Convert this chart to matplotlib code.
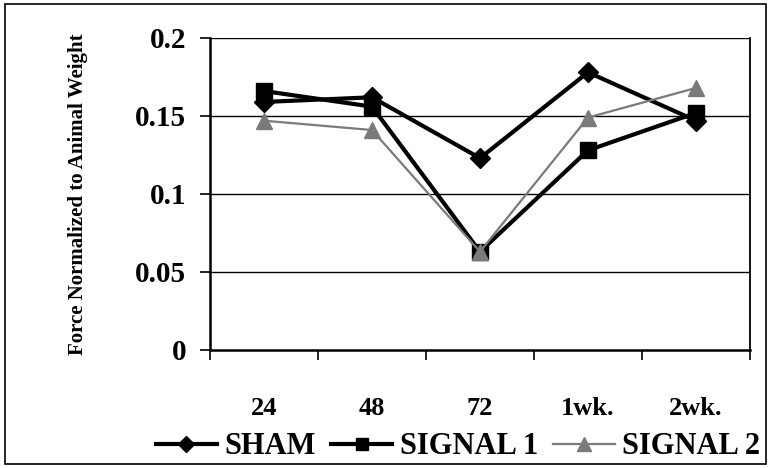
import matplotlib.pyplot as plt
from matplotlib.patches import Rectangle

categories = ['24', '48', '72', '1wk.', '2wk.']
sham = [0.159, 0.162, 0.123, 0.178, 0.147]
signal1 = [0.166, 0.156, 0.063, 0.128, 0.152]
signal2 = [0.147, 0.141, 0.063, 0.149, 0.168]
yticks = [0, 0.05, 0.1, 0.15, 0.2]
ytick_labels = ['0', '0.05', '0.1', '0.15', '0.2']

plt.rcParams['font.family'] = ['Liberation Serif', 'DejaVu Serif']
plt.rcParams['font.weight'] = 'bold'

fig = plt.figure(figsize=(7.71, 4.68), dpi=100)
ax = fig.add_axes([210 / 771, 1 - 350 / 468, 540 / 771, 312 / 468])

x = range(len(categories))
ax.plot(x, sham, color='black', lw=3, marker='D', ms=10, label='SHAM', zorder=3)
ax.plot(x, signal1, color='black', lw=3, marker='s', ms=11, label='SIGNAL 1', zorder=4)
ax.plot(x, signal2, color='#7a7a7a', lw=1.6, marker='^', ms=12, label='SIGNAL 2', zorder=5)

ax.set_xlim(-0.5, len(categories) - 0.5)
ax.set_ylim(0, 0.2)
ax.set_yticks(yticks)
ax.set_yticklabels(ytick_labels, fontsize=21, fontweight='bold')
ax.set_xticks(list(x))
ax.set_xticklabels(categories, fontsize=19, fontweight='bold')
ax.set_xticks([i - 0.5 for i in range(len(categories) + 1)], minor=True)
ax.tick_params(axis='x', which='major', length=0, pad=34)
ax.tick_params(axis='x', which='minor', length=7, width=1.2, direction='out')
ax.tick_params(axis='y', length=7, width=1.2, direction='out', pad=10)

for v in yticks[1:]:
    ax.axhline(v, color='black', lw=1, zorder=1)

ax.spines['top'].set_visible(False)
ax.spines['left'].set_linewidth(1.8)
ax.spines['bottom'].set_linewidth(1.8)
ax.spines['right'].set_linewidth(1.3)

ax.set_ylabel('Force Normalized to Animal Weight', fontsize=15, fontweight='bold', labelpad=34)

fig.legend(loc='center', bbox_to_anchor=(458 / 771, 1 - 447 / 468), ncol=3, frameon=False,
           prop={'size': 22, 'weight': 'bold'}, handlelength=2.0, handletextpad=0.25,
           columnspacing=0.5, markerscale=0.85, borderpad=0)

fig.patches.append(Rectangle((5 / 771, 4 / 468), 761 / 771, 460 / 468, transform=fig.transFigure,
                             fill=False, edgecolor='black', lw=1.2))

fig.savefig('out.png', dpi=100)
